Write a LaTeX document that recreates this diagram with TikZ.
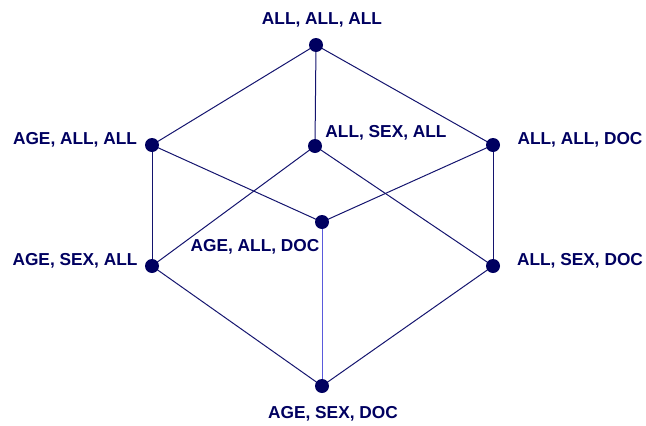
\documentclass[tikz,border=0pt]{standalone}
\usepackage{fontspec}
\setmainfont{Liberation Sans}
\definecolor{navy}{RGB}{0,0,96}
\definecolor{edgec}{RGB}{20,20,110}
\definecolor{lightedge}{RGB}{90,90,220}
\begin{document}
\begin{tikzpicture}[x=1pt,y=-1pt,
  dot/.style={circle,fill=navy,inner sep=0pt,minimum size=14pt},
  lbl/.style={text=navy,font=\fontsize{17.3}{20}\selectfont\bfseries,inner sep=0pt},
  edge/.style={draw=edgec,line width=1pt}]
\useasboundingbox (0,0) rectangle (646,426);
\coordinate (t) at (316,45);
\coordinate (aaa) at (152,145);
\coordinate (asa) at (315,146);
\coordinate (aad) at (493,145);
\coordinate (agd) at (322,222);
\coordinate (gsa) at (152,266);
\coordinate (asd) at (493,266);
\coordinate (b) at (322,386);
\path[edge] (t) -- (aaa);
\path[edge] (t) -- (asa);
\path[edge] (t) -- (aad);
\path[edge] (aaa) -- (gsa);
\path[edge] (aaa) -- (agd);
\path[edge] (asa) -- (gsa);
\path[edge] (asa) -- (asd);
\path[edge] (aad) -- (agd);
\path[edge] (aad) -- (asd);
\path[edge] (gsa) -- (b);
\path[edge] (asd) -- (b);
\path[edge,draw=lightedge] (agd) -- (b);
\foreach \n in {t,aaa,asa,aad,agd,gsa,asd,b} \node[dot] (d\n) at (\n) {};
\node[lbl] (lt) at (322,19.5) {ALL, ALL, ALL};
\node[lbl] (laaa) at (75,139.5) {AGE, ALL, ALL};
\node[lbl] (lasa) at (386,132.5) {ALL, SEX, ALL};
\node[lbl] (laad) at (580,139.5) {ALL, ALL, DOC};
\node[lbl] (lagd) at (255,246.5) {AGE, ALL, DOC};
\node[lbl] (lgsa) at (75,260.5) {AGE, SEX, ALL};
\node[lbl] (lasd) at (580,260.5) {ALL, SEX, DOC};
\node[lbl] (lb) at (333,413.5) {AGE, SEX, DOC};
\end{tikzpicture}
\end{document}
